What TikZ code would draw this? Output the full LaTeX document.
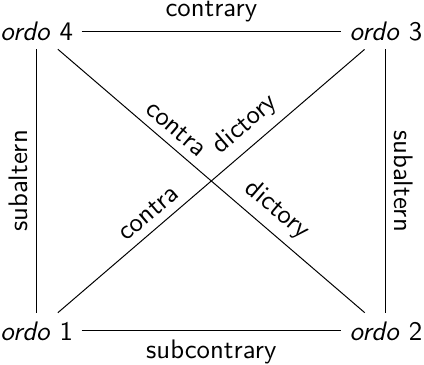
\documentclass[tikz,border=0pt]{standalone}
\usepackage{tikz}
\usetikzlibrary{positioning}

\begin{document}
\begin{tikzpicture}[line width=0.4pt,
    every node/.style={font=\sffamily\fontsize{10.8pt}{13pt}\selectfont}]
    \useasboundingbox (0,0) rectangle (6.01,5.16);
    % ecken
    \node (O4) at (0.52, 4.72) {\textit{ordo} 4};
    \node (O3) at (5.47, 4.72) {\textit{ordo} 3};
    \node (O1) at (0.52, 0.47) {\textit{ordo} 1};
    \node (O2) at (5.47, 0.47) {\textit{ordo} 2};

    % seiten
    \draw (O4) -- node[above] {contrary} (O3);
    \draw (O1) -- node[below] {subcontrary} (O2);
    \draw (O1) -- node[sloped, above] {subaltern} (O4);
    \draw (O3) -- node[sloped, above] {subaltern} (O2);

    % diagonalen
    \draw (O1) -- node[sloped, above, pos=0.33] {contra}
                  node[sloped, above, pos=0.655] {dictory} (O3);
    \draw (O4) -- node[sloped, above, pos=0.35] {contra}
                  node[sloped, above, pos=0.67] {dictory} (O2);
\end{tikzpicture}
\end{document}
